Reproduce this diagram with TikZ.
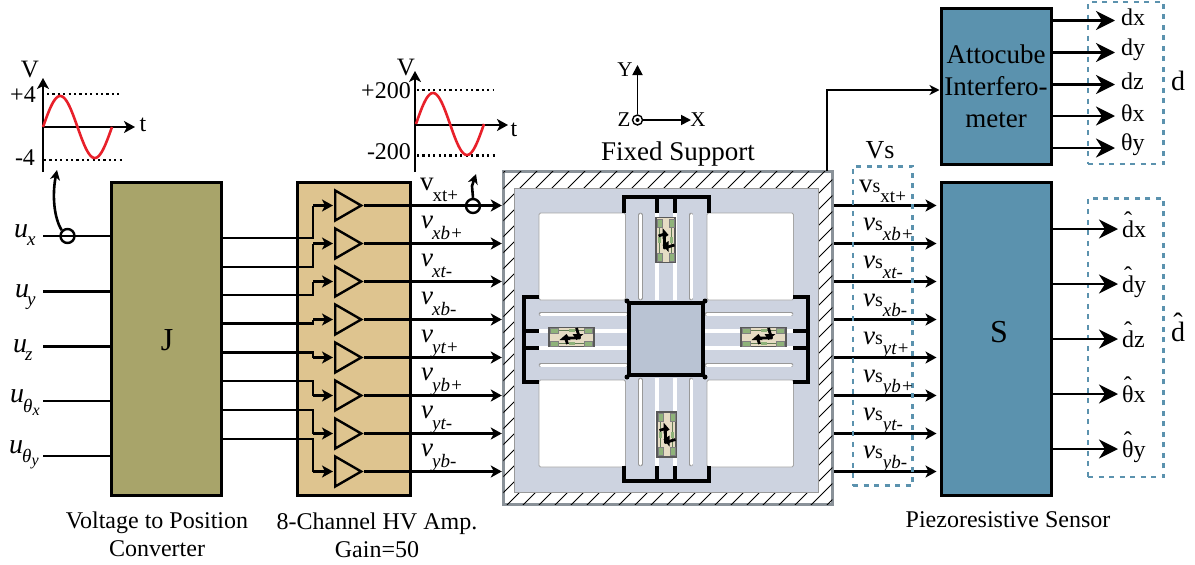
\documentclass[tikz,border=0pt]{standalone}
\usepackage{fontspec}
\setmainfont{Liberation Serif}
\usetikzlibrary{shapes.geometric,calc,arrows.meta}

\definecolor{convcolor}{HTML}{A8A46A}
\definecolor{ampcolor}{HTML}{DEC48F}
\definecolor{sensecolor}{HTML}{5B92AE}
\definecolor{stagecolor}{HTML}{CDD3E0}
\definecolor{masscolor}{HTML}{B9C3D3}
\definecolor{framecolor}{HTML}{8A9299}
\definecolor{chipcolor}{HTML}{E6DCC4}
\definecolor{padcolor}{HTML}{8FB37A}
\definecolor{wavecolor}{HTML}{E8202A}

\newcommand{\txt}[1]{\fontsize{#1}{#1}\selectfont}
\newcommand{\sigv}[2]{#1\raisebox{-11pt}{\txt{19}\kern-1pt #2}}
\newcommand{\sigvs}[2]{#1{\txt{20}s}\raisebox{-10pt}{\txt{19}#2}}
\newcommand{\hatted}[1]{{\setbox0=\hbox{#1}\makebox[\wd0][c]{\raisebox{9pt}[0pt][0pt]{\char"02C6}}\kern-\wd0 \box0}}

\tikzset{
  sig/.style={line width=2.6pt,-{Stealth[length=11pt,width=12pt,inset=3pt]}},
  wire/.style={line width=2.6pt},
  bigsig/.style={line width=2.6pt,-{Stealth[length=19pt,width=19pt,inset=6pt]}},
  block/.style={draw,line width=3pt,inner sep=0pt},
  dashbox/.style={draw=sensecolor,line width=2.8pt,dash pattern=on 5pt off 5.5pt},
  amptri/.style={draw,line width=2.4pt,isosceles triangle,isosceles triangle stretches,
    minimum width=30pt,minimum height=26pt,inner sep=0pt,fill=ampcolor},
  probe/.style={draw,circle,line width=2.4pt,minimum size=14pt,inner sep=0pt},
  lab/.style={font=\txt{24},inner sep=0pt},
  siglab/.style={font=\txt{27},inner sep=0pt,anchor=base west},
  dotline/.style={line width=2.4pt,dash pattern=on 2.2pt off 3.2pt},
  stub/.style={line width=4.2pt},
  slot/.style={draw=black!40,line width=0.8pt,double=white,double distance=3pt,line cap=round},
  slit/.style={line width=3.5pt,white},
  sensorchip/.pic={
    \draw[fill=chipcolor,line width=1.2pt,draw=black!65] (-9.5,-22.5) rectangle (9.5,22.5);
    \foreach \s in {-6.3,6.3}{
      \draw[padcolor!70!black,line width=1pt] (\s,-20) -- (\s,20);
      \foreach \p in {-17,17}
        \draw[fill=padcolor,draw=black!50,line width=0.4pt] (\s-2.5,\p-4) rectangle (\s+2.5,\p+4);
      \fill[padcolor] (\s-1.5,-3) rectangle (\s+1.5,3);
    }
    \draw[line width=2.8pt,line join=round] (-7,-4) -- (-1,-6) -- (-1,8) -- (9,5);
    \fill (-3,-12) -- (3,-5) -- (-3,-1) -- cycle;
    \fill (3,12) -- (-3,5) -- (3,1) -- cycle;
  }
}

\begin{document}
\begin{tikzpicture}[x=1pt,y=-1pt]
  \useasboundingbox (0,0) rectangle (1195,565);

  % main blocks
  \node[block,fill=convcolor,minimum width=110pt,minimum height=313pt] (conv) at (166.4,339) {};
  \node[block,fill=ampcolor,minimum width=113pt,minimum height=313pt] (amp) at (354,339) {};
  \node[block,fill=sensecolor,minimum width=110pt,minimum height=156pt] (atto) at (996,86.7) {};
  \node[block,fill=sensecolor,minimum width=110pt,minimum height=313pt] (piezo) at (996,338.7) {};
  \node[lab,font=\txt{32}] (jname) at (167,340) {J};
  \node[lab,font=\txt{32}] (sname) at (999,332) {S};
  \node[lab,font=\txt{27},align=center] (attoname) at (996,86) {Attocube\\[5pt]Interfero-\\[5pt]meter};

  % fixed support with hatched border
  \node[draw=framecolor,line width=3pt,fill=white,minimum width=329pt,minimum height=333pt,inner sep=0pt] (stage) at (667.8,338) {};
  \begin{scope}
    \clip (503.3,171.5) rectangle (832.3,504.5);
    \foreach \k in {0,16,...,704}
      \draw[line width=0.9pt] (140+\k,520) -- (490+\k,170);
    \fill[stagecolor] (514,188) rectangle (818,492);
    \draw[black!40,line width=0.8pt] (514,188) rectangle (818,492);
  \end{scope}

  % windows
  \foreach \xa/\ya in {539/213,707/213,539/380,707/380}
    \draw[fill=white,draw=black!35,line width=0.8pt,rounded corners=1.5pt] (\xa,\ya) rectangle (\xa+86.5,\ya+87);

  % slits in the flexure beams
  \foreach \xa in {640.5,691}{
    \draw[slot] (\xa,215) -- (\xa,298);
    \draw[slot] (\xa,380) -- (\xa,464);
  }
  \foreach \xa in {657,675}{
    \draw[slit] (\xa,212) -- (\xa,300);
    \draw[slit] (\xa,378) -- (\xa,466);
  }
  \foreach \ya in {314,365}{
    \draw[slot] (541,\ya) -- (626,\ya);
    \draw[slot] (707,\ya) -- (791,\ya);
  }
  \foreach \ya in {331,348}{
    \draw[slit] (539,\ya) -- (627,\ya);
    \draw[slit] (705,\ya) -- (793,\ya);
  }

  % clamps of the beams
  \draw[stub,line join=miter] (624,213) -- (624,197) -- (709,197) -- (709,213);
  \draw[stub,line join=miter] (624,466) -- (624,481) -- (709,481) -- (709,466);
  \draw[stub,line join=miter] (539,297) -- (524,297) -- (524,382) -- (539,382);
  \draw[stub,line join=miter] (793,297) -- (808,297) -- (808,382) -- (793,382);
  \foreach \xa in {657,675}{
    \draw[stub] (\xa,197) -- (\xa,213);
    \draw[stub] (\xa,466) -- (\xa,481);
  }
  \foreach \ya in {331,348}{
    \draw[stub] (524,\ya) -- (539,\ya);
    \draw[stub] (793,\ya) -- (808,\ya);
  }

  % moving platform
  \node[draw,line width=4pt,fill=masscolor,minimum width=74pt,minimum height=72pt,inner sep=0pt] (mass) at (666,339) {};
  \foreach \c in {north west,north east,south west,south east}
    \fill (mass.\c) circle (2.5pt);

  \pic at (665.5,240) {sensorchip};
  \pic at (666.5,434.5) {sensorchip};
  \pic[rotate=90] at (571.5,337) {sensorchip};
  \pic[rotate=90] at (763.5,337) {sensorchip};

  % inputs of the converter
  \foreach \name/\ya in {ux/236,uy/291.5,uz/346.5,utx/401,uty/456}{
    \coordinate (\name) at (43,\ya);
    \draw[wire] (\name) -- (\name -| conv.west);
  }
  \node[siglab,font=\txt{28}] (uxlab) at (14,237) {\textit{u}};
  \node[siglab,font=\txt{19}] (uxsub) at (27,245) {\textit{x}};
  \node[siglab,font=\txt{28}] (uylab) at (15,297) {\textit{u}};
  \node[siglab,font=\txt{19}] (uysub) at (27,305) {\textit{y}};
  \node[siglab,font=\txt{28}] (uzlab) at (13,352) {\textit{u}};
  \node[siglab,font=\txt{19}] (uzsub) at (25,360) {\textit{z}};
  \node[siglab,font=\txt{28}] (utxlab) at (10,402) {\textit{u}};
  \node[siglab,font=\txt{19}] (utxsub) at (23,412) {\textit{θ}\raisebox{-3pt}{\txt{16}\textit{x}}};
  \node[siglab,font=\txt{28}] (utylab) at (9,453) {\textit{u}};
  \node[siglab,font=\txt{19}] (utysub) at (22,462) {\textit{θ}\raisebox{-3pt}{\txt{16}\textit{y}}};

  % converter to amplifiers to stage to sensor
  \foreach \i/\yj/\ya in {1/238/205.5,2/267/243.5,3/295/281.5,4/323.5/319.5,5/352.5/357.5,6/381/395.5,7/410/433.5,8/439/471.5}{
    \node[amptri,anchor=lower side] (amp\i) at (334,\ya) {};
    \coordinate (in\i) at (conv.east |- 0,\yj);
    \coordinate (bend\i) at (313,\ya);
    \coordinate (sout\i) at (stage.east |- 0,\ya);
    \draw[wire] (in\i) -- (in\i -| bend\i) -- (bend\i);
    \draw[sig,shorten >=1pt] (bend\i) -- (amp\i.lower side);
    \draw[sig] (amp\i.apex) -- (amp\i.apex -| stage.west);
    \draw[sig,shorten >=3pt] (sout\i) -- (sout\i -| piezo.west);
  }

  % amplifier output names
  \node[siglab] (vlab1) at (420,190) {\sigv{v}{xt+}};
  \foreach \i/\ya/\nm in {2/243.5/xb+,3/281.5/xt-,4/319.5/xb-,5/357.5/yt+,6/395.5/yb+,7/433.5/yt-,8/471.5/yb-}
    \node[siglab] (vlab\i) at (421,\ya-15) {\sigv{\textit{v}}{\textit{\nm}}};

  % sensor signal names
  \node[dashbox,minimum width=59.5pt,minimum height=319.5pt,inner sep=0pt] (vsbox) at (882.8,326) {};
  \node[lab,font=\txt{26}] (vsname) at (880,150) {Vs};
  \node[siglab] (vslab1) at (859,192.5) {\sigvs{v}{xt+}};
  \foreach \i/\ya/\nm in {2/243.5/xb+,3/281.5/xt-,4/319.5/xb-,5/357.5/yt+,6/395.5/yb+,7/433.5/yt-,8/471.5/yb-}
    \node[siglab] (vslab\i) at (863,\ya-13.5) {\sigvs{\textit{v}}{\textit{\nm}}};

  % stage to interferometer
  \coordinate (probeout) at (827,171);
  \draw[line width=2.6pt,-{Stealth[length=10pt,width=10pt,inset=3pt]}] (probeout) |- (atto.west |- 0,90);

  % displacement outputs
  \node[dashbox,minimum width=75.5pt,minimum height=162pt,inner sep=0pt] (dbox) at (1125.8,83) {};
  \foreach \i/\ya/\nm in {1/20.5/dx,2/52.5/dy,3/84.5/dz,4/116/θx,5/148/θy}{
    \coordinate (dout\i) at (atto.east |- 0,\ya);
    \node[lab,anchor=west] (dlab\i) at (1121,\ya-3) {\nm};
    \draw[bigsig,shorten >=6pt] (dout\i) -- (dlab\i.west |- dout\i);
  }
  \node[lab,font=\txt{28}] (dname) at (1178,81) {d};

  \node[dashbox,minimum width=75.5pt,minimum height=278.8pt,inner sep=0pt] (dhbox) at (1125.8,337.5) {};
  \foreach \i/\ya/\hh/\nm in {1/229/d/x,2/284/d/y,3/339/d/z,4/394/θ/x,5/449/θ/y}{
    \coordinate (dhout\i) at (piezo.east |- 0,\ya);
    \node[lab,anchor=base west] (dhlab\i) at (1122,\ya+8) {\hatted{\hh}\nm};
    \draw[bigsig,shorten >=4pt] (dhout\i) -- (dhlab\i.west |- dhout\i);
  }
  \node[lab,font=\txt{28}] (dhname) at (1178,332) {\hatted{d}};

  % signal plots
  \coordinate (vaxa) at (43,172);
  \coordinate (vtipa) at (43,78);
  \coordinate (taila) at (43,127);
  \coordinate (ttipa) at (135,127);
  \draw[line width=2.6pt,-{Stealth[length=11pt,width=12pt,inset=3pt]}] (vaxa) -- (vtipa);
  \draw[line width=2.6pt,-{Stealth[length=11pt,width=12pt,inset=3pt]}] (taila) -- (ttipa);
  \draw[dotline] (47,94) -- (121,94);
  \draw[dotline] (44,160) -- (123,160);
  \draw[wavecolor,line width=2.6pt] plot[domain=0:360,samples=60,smooth] ({43+\x/360*69},{127-31*sin(\x)});
  \node[lab,font=\txt{25}] (vname) at (30,70) {V};
  \node[lab] (tname) at (143,125) {t};
  \node[lab] (ptop) at (23,95) {+4};
  \node[lab] (pbot) at (25,158) {-4};

  \coordinate (vaxb) at (415,172);
  \coordinate (vtipb) at (415,71);
  \coordinate (tailb) at (415,125);
  \coordinate (ttipb) at (508,125);
  \draw[line width=2.6pt,-{Stealth[length=11pt,width=12pt,inset=3pt]}] (vaxb) -- (vtipb);
  \draw[line width=2.6pt,-{Stealth[length=11pt,width=12pt,inset=3pt]}] (tailb) -- (ttipb);
  \draw[dotline] (417,90) -- (493,90);
  \draw[dotline] (417,155.5) -- (495,155.5);
  \draw[wavecolor,line width=2.6pt] plot[domain=0:360,samples=60,smooth] ({416+\x/360*68},{124-31*sin(\x)});
  \node[lab,font=\txt{25}] (vnameb) at (406,68) {V};
  \node[lab] (tnameb) at (514,130) {t};
  \node[lab] (ptopb) at (386,91) {+200};
  \node[lab] (pbotb) at (389,152) {-200};

  % probes
  \node[probe] (probea) at (67.5,236) {};
  \node[probe] (probeb) at (473,206) {};
  \coordinate (plota) at (57,170);
  \coordinate (plotb) at (476,174);
  \draw[line width=2.6pt,-{Stealth[length=10pt,width=10pt,inset=3pt]}] (probea.north west) .. controls (54,218) and (52,195) .. (plota);
  \draw[line width=2.6pt,-{Stealth[length=10pt,width=10pt,inset=3pt]}] (probeb.north) -- (472,186) -- (plotb);

  % axes
  \node[draw,circle,line width=1.4pt,minimum size=10pt,inner sep=0pt] (zaxis) at (637.5,120) {};
  \fill (zaxis.center) circle (2pt);
  \coordinate (ytip) at (637.5,65);
  \coordinate (xtip) at (691,120);
  \draw[line width=1.8pt,-{Stealth[length=10pt,width=10pt,inset=0pt]}] (zaxis.north) -- (ytip);
  \draw[line width=1.8pt,-{Stealth[length=10pt,width=10pt,inset=0pt]}] (zaxis.east) -- (xtip);
  \node[lab,font=\txt{21}] (yname) at (625,70) {Y};
  \node[lab,font=\txt{21}] (zname) at (624,120) {Z};
  \node[lab,font=\txt{21}] (xname) at (698,120) {X};

  % captions
  \node[lab,font=\txt{27}] (stagename) at (678,154) {Fixed Support};
  \node[lab,align=center] (convname) at (157,534) {Voltage to Position\\[4pt]Converter};
  \node[lab,align=center] (ampname) at (377,535) {8-Channel HV Amp.\\[4pt]Gain=50};
  \node[lab] (piezoname) at (1008,520) {Piezoresistive Sensor};
\end{tikzpicture}
\end{document}
